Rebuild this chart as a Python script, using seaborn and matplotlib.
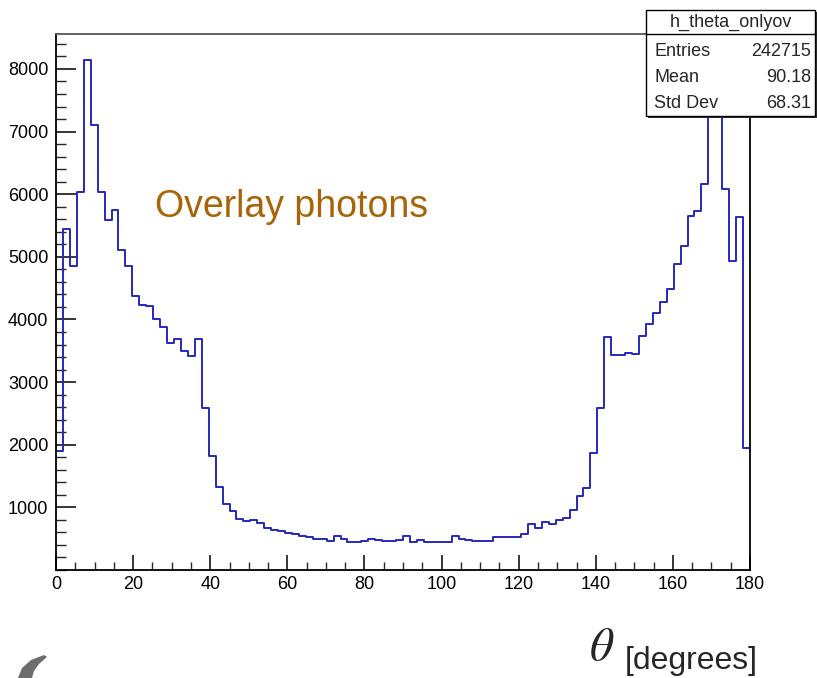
import numpy as np
import pandas as pd
import matplotlib
matplotlib.use("Agg")
import matplotlib.pyplot as plt
import seaborn as sns
from matplotlib.patches import Rectangle, Polygon
from matplotlib.lines import Line2D
from matplotlib.ticker import MultipleLocator

# ---------------- data (100 bins of 1.8 degrees, 0..180) ----------------
counts = [
    1900, 5450, 4850, 6030, 8150, 7100, 6030, 5580, 5750, 5110,
    4850, 4380, 4230, 4220, 4010, 3880, 3625, 3685, 3490, 3410,
    3690, 2580, 1815, 1330, 1060, 940, 815, 785, 805, 745,
    670, 645, 615, 595, 570, 545, 520, 500, 500, 470,
    540, 490, 455, 455, 470, 490, 480, 470, 460, 480,
    550, 455, 480, 445, 445, 455, 440, 545, 500, 480,
    465, 465, 465, 530, 525, 525, 520, 575, 735, 665,
    765, 735, 800, 825, 960, 1185, 1310, 1860, 2590, 3715,
    3440, 3440, 3465, 3450, 3735, 3920, 4100, 4285, 4480, 4880,
    5175, 5650, 5735, 6160, 8000, 7900, 6080, 4935, 5630, 1950,
]
theta_range = [0, 180]
x_tick_values = [0, 20, 40, 60, 80, 100, 120, 140, 160, 180]
y_tick_values = [1000, 2000, 3000, 4000, 5000, 6000, 7000, 8000]
stats_title = "h_theta_onlyov"
stats_labels = ["Entries", "Mean", "Std Dev"]
stats_values = ["242715", "90.18", "68.31"]
annotation_text = "Overlay photons"

# ---------------- style ----------------
sns.set_style("white")
plt.rcParams['font.family'] = ['Liberation Sans', 'DejaVu Sans']
plt.rcParams['mathtext.fontset'] = 'stix'

W, H = 817, 678
fig = plt.figure(figsize=(W / 100, H / 100), dpi=100)
fig.patch.set_facecolor("white")

# axes frame (pixel positions converted to figure fractions)
ax_l, ax_r, ax_t, ax_b = 56, 750, 34, 570
ax = fig.add_axes([ax_l / W, 1 - ax_b / H, (ax_r - ax_l) / W, (ax_b - ax_t) / H])

n_bins = len(counts)
edges = np.linspace(theta_range[0], theta_range[1], n_bins + 1)
centers = 0.5 * (edges[:-1] + edges[1:])
df = pd.DataFrame({"theta": centers, "count": counts})

sns.histplot(data=df, x="theta", weights="count", bins=edges.tolist(),
             element="step", fill=False, color="#2828BC", linewidth=1.4,
             ax=ax)

ax.set_xlim(theta_range)
ax.set_ylim(0, 1.05 * max(counts))
ax.set_xlabel("")
ax.set_ylabel("")

ax.set_xticks(x_tick_values)
ax.set_xticklabels([str(v) for v in x_tick_values])
ax.set_yticks(y_tick_values)
ax.set_yticklabels([str(v) for v in y_tick_values])
ax.xaxis.set_minor_locator(MultipleLocator(5))
ax.yaxis.set_minor_locator(MultipleLocator(200))

ax.tick_params(axis='y', which='major', direction='in', length=14.5, width=1.1,
               pad=5.5, labelsize=13, left=True, right=False, colors="black")
ax.tick_params(axis='y', which='minor', direction='in', length=7.2, width=1.0,
               left=True, right=False)
ax.tick_params(axis='x', which='major', direction='in', length=11, width=1.1,
               pad=4, labelsize=13, bottom=True, top=False, colors="black")
ax.tick_params(axis='x', which='minor', direction='in', length=5.5, width=1.0,
               bottom=True, top=False)

for side in ["left", "bottom", "right"]:
    ax.spines[side].set_color("black")
    ax.spines[side].set_linewidth(1.3)
ax.spines["top"].set_color("#555555")
ax.spines["top"].set_linewidth(1.3)

# ---------------- annotation ----------------
fig.text(155 / W, 1 - 217 / H, annotation_text, fontsize=27, color="#A86408",
         ha="left", va="baseline")

# ---------------- stats box ----------------
bx0, bx1, by0, by1, bsep = 646, 815, 10, 116, 33.5
shadow = Rectangle((bx0 / W + 2 / W, 1 - (by1 + 2) / H), (bx1 - bx0) / W, (by1 - by0) / H,
                   transform=fig.transFigure, facecolor="#333333", edgecolor="none",
                   zorder=5)
box = Rectangle((bx0 / W, 1 - by1 / H), (bx1 - bx0) / W, (by1 - by0) / H,
                transform=fig.transFigure, facecolor="white", edgecolor="black",
                linewidth=1.0, zorder=6)
fig.patches.extend([shadow, box])
fig.lines.append(Line2D([bx0 / W, bx1 / W], [1 - bsep / H, 1 - bsep / H],
                        transform=fig.transFigure, color="black", linewidth=1.0,
                        zorder=7))
fig.text((bx0 + bx1) / 2 / W, 1 - 22 / H, stats_title, fontsize=13, ha="center",
         va="center", zorder=8)
row_y = [51.5, 77.5, 103]
for lab, val, yy in zip(stats_labels, stats_values, row_y):
    fig.text(654 / W, 1 - yy / H, lab, fontsize=13, ha="left", va="center", zorder=8)
    fig.text(811 / W, 1 - yy / H, val, fontsize=13, ha="right", va="center", zorder=8)

# ---------------- x axis title ----------------
fig.text(589 / W, 1 - 660 / H, r"$\theta$", fontsize=34, ha="left", va="baseline")
fig.text(625 / W, 1 - 669 / H, "[degrees]", fontsize=23, ha="left", va="baseline")

# ---------------- cropped grey logo fragment at bottom left ----------------
logo = Polygon([(18 / W, 0.0), (22 / W, 1 - 668 / H), (31 / W, 1 - 660 / H),
                (44 / W, 1 - 655 / H), (47 / W, 1 - 657 / H), (39 / W, 1 - 664 / H),
                (34 / W, 1 - 671 / H), (32 / W, 0.0)],
               closed=True, transform=fig.transFigure, facecolor="#6E6E6E",
               edgecolor="none")
fig.patches.append(logo)

fig.savefig("out.png", dpi=100, facecolor="white")
